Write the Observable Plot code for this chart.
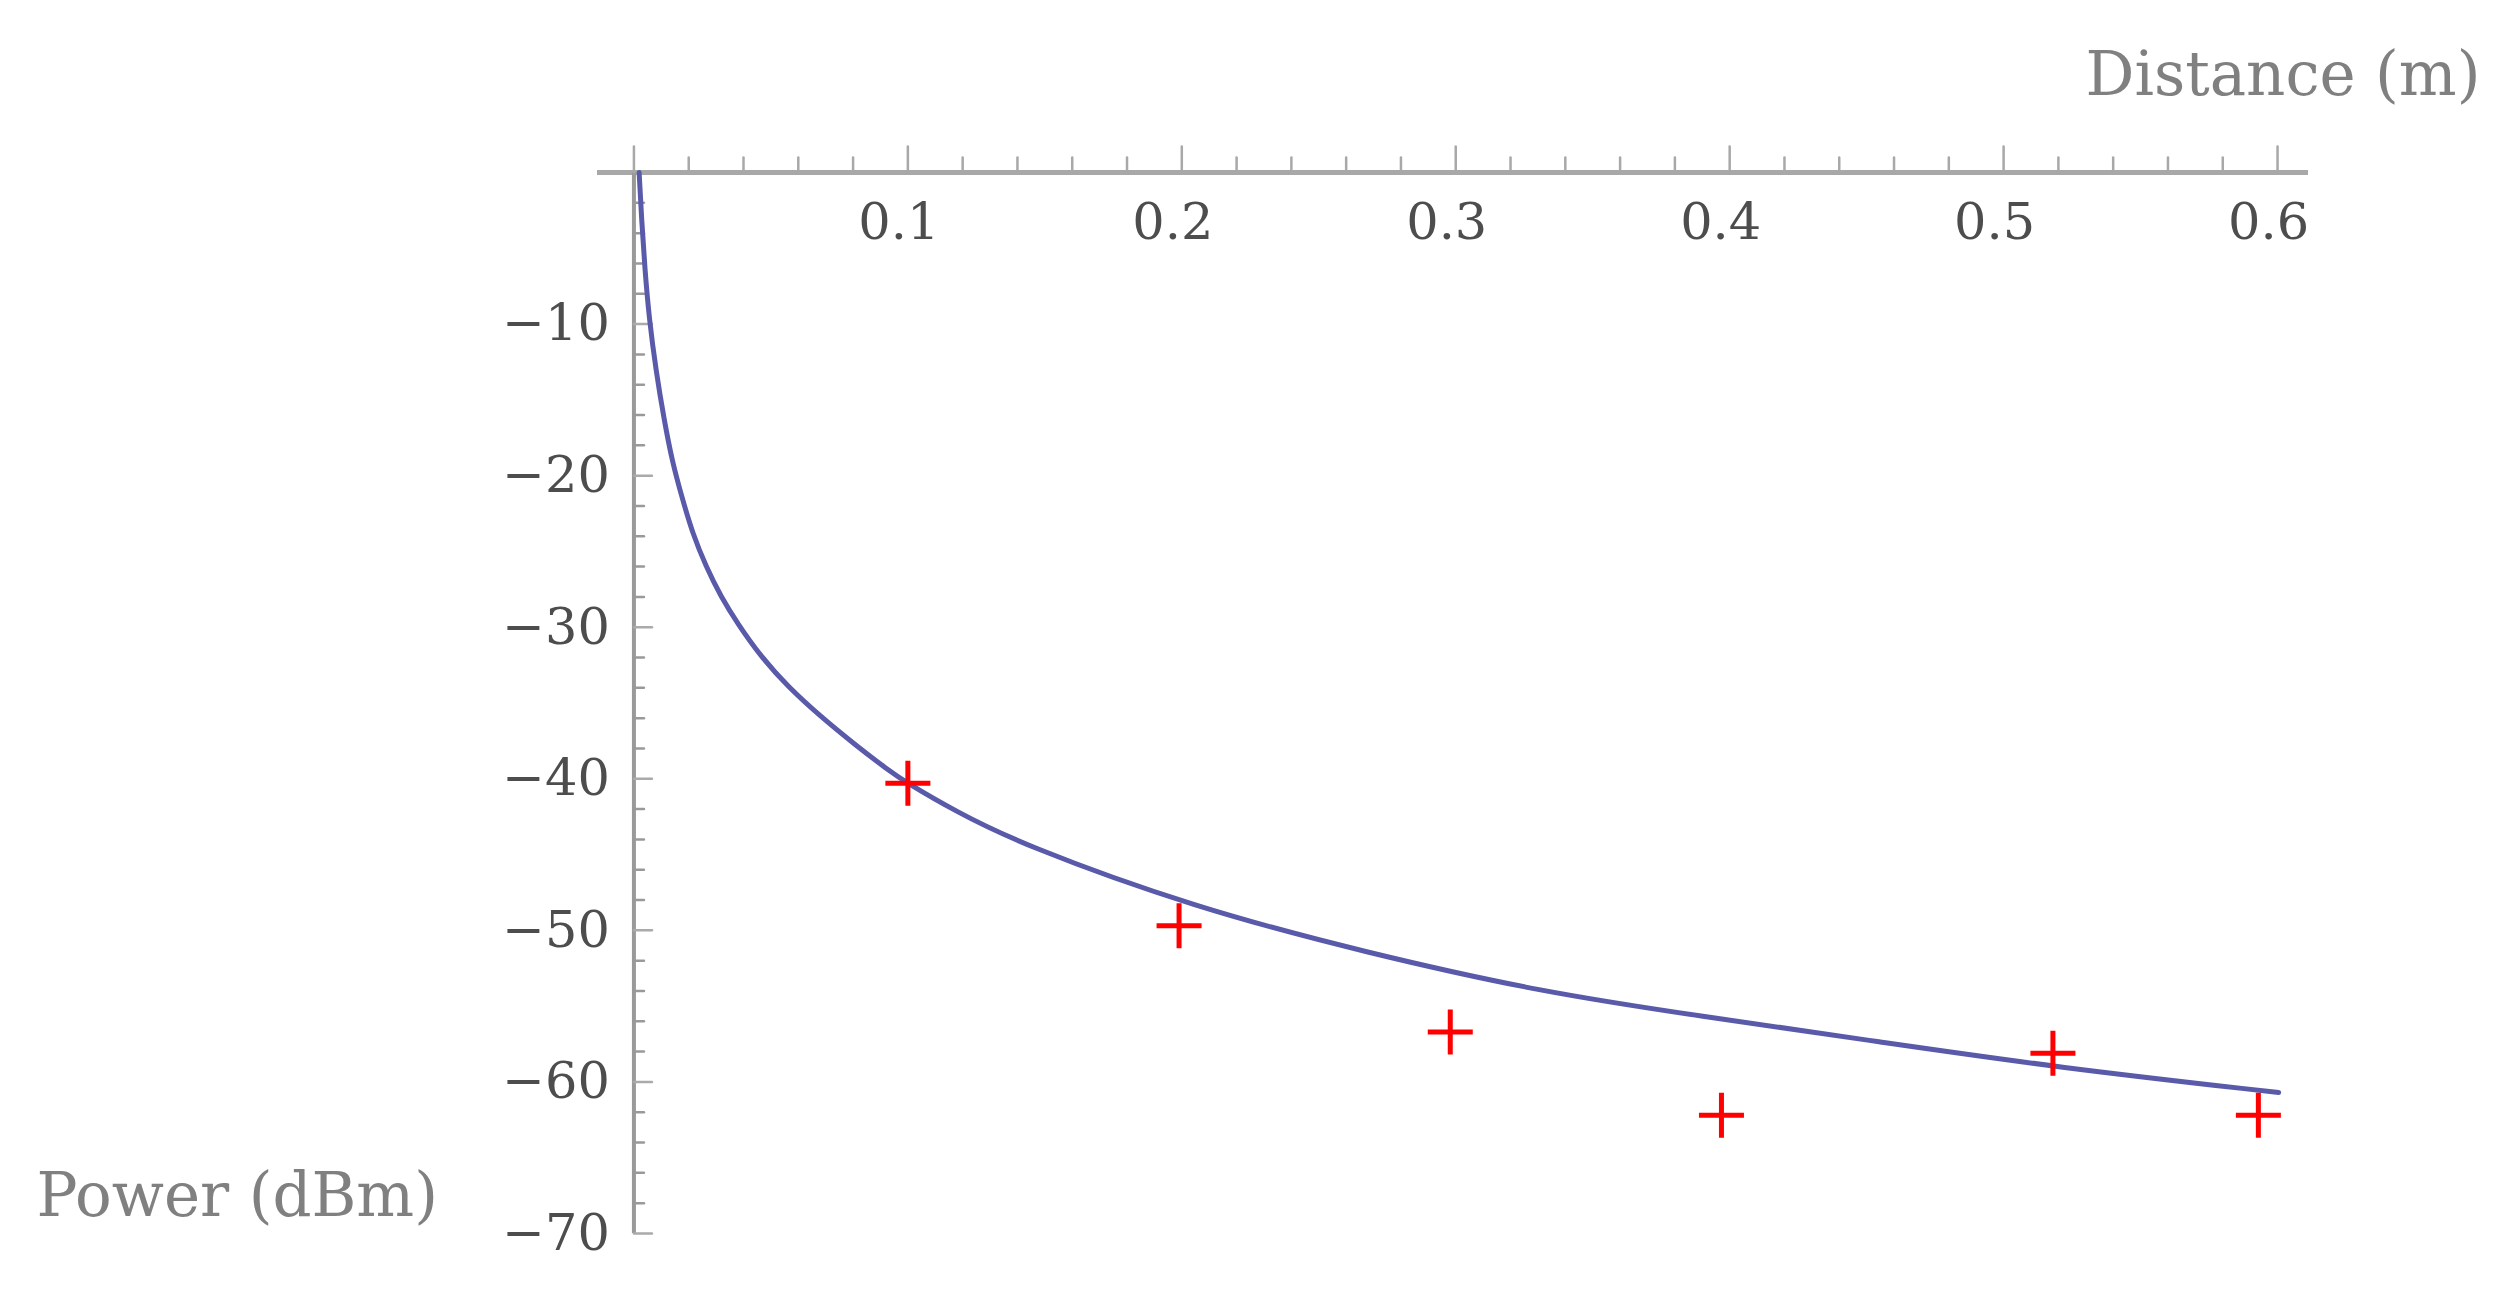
<!DOCTYPE html>
<html>
<head>
<meta charset="utf-8">
<script src="https://cdn.jsdelivr.net/npm/d3@7"></script>
<script src="https://cdn.jsdelivr.net/npm/@observablehq/plot@0.6"></script>
<style>
  html, body { margin: 0; padding: 0; background: #fff; }
  #chart svg { display: block; }
</style>
</head>
<body>
<div id="chart"></div>
<script>
// Fitted model curve
const curveDistance = [0.0019, 0.0028, 0.0040, 0.0056, 0.0080, 0.0110, 0.0140, 0.0178, 0.0214, 0.0263, 0.0318, 0.0378, 0.0464, 0.0561, 0.0682, 0.0804, 0.0926, 0.0999, 0.117, 0.141, 0.2047, 0.268, 0.3307, 0.389, 0.4546, 0.5197, 0.6004];
const curvePower    = [0, -3.1, -6.4, -9.7, -13.0, -16.3, -19.1, -21.6, -23.8, -26.0, -28.0, -29.75, -31.95, -33.9, -35.9, -37.7, -39.4, -40.3, -42.1, -44.3, -48.5, -51.5, -54.05, -55.65, -57.35, -59.05, -60.7];

// Measured points (red crosses)
const measuredDistance = [0.1, 0.199, 0.298, 0.397, 0.518, 0.593];
const measuredPower    = [-40.3, -49.7, -56.7, -62.2, -58.1, -62.2];

// Axis ticks
const xMajorTicks = [0, 0.1, 0.2, 0.3, 0.4, 0.5, 0.6];
const xTickLabels = [0.1, 0.2, 0.3, 0.4, 0.5, 0.6];
const xMinorTicks = [0.02, 0.04, 0.06, 0.08, 0.12, 0.14, 0.16, 0.18, 0.22, 0.24, 0.26, 0.28, 0.32, 0.34, 0.36, 0.38, 0.42, 0.44, 0.46, 0.48, 0.52, 0.54, 0.56, 0.58];
const yMajorTicks = [-10, -20, -30, -40, -50, -60, -70];
const yMinorTicks = [-2, -4, -6, -8, -12, -14, -16, -18, -22, -24, -26, -28, -32, -34, -36, -38, -42, -44, -46, -48, -52, -54, -56, -58, -62, -64, -66, -68];

const xLabel = "Distance (m)";
const yLabel = "Power (dBm)";

const curve = curveDistance.map((d, i) => ({distance: d, power: curvePower[i]}));
const measured = measuredDistance.map((d, i) => ({distance: d, power: measuredPower[i]}));

const tickShape = {
  draw(context, l) {
    context.moveTo(0, 0);
    context.lineTo(0, -l);
  }
};
const plusSymbol = {
  draw(context, size) {
    const r = Math.sqrt(size / Math.PI);
    context.moveTo(-r, 0);
    context.lineTo(r, 0);
    context.moveTo(0, -r);
    context.lineTo(0, r);
  }
};

const axisColor = "#a8a8a8";
const tickTextColor = "#4d4d4d";
const labelColor = "#808080";

const chart = Plot.plot({
  width: 2515,
  height: 1289,
  marginLeft: 597,
  marginRight: 207,
  marginTop: 172,
  marginBottom: 56,
  style: {background: "#fff", fontFamily: "'DejaVu Serif', serif"},
  x: {domain: [-0.0133, 0.6113], axis: null},
  y: {domain: [-70, 0], axis: null},
  marks: [
    // axis lines
    Plot.ruleY([0], {stroke: axisColor, strokeWidth: 5}),
    Plot.ruleX([0], {stroke: "#999", strokeWidth: 4}),
    // x ticks (pointing up)
    Plot.vector(xMinorTicks, {x: d => d, y: 0, length: 15, anchor: "start", shape: tickShape, stroke: axisColor, strokeWidth: 2.5}),
    Plot.vector(xMajorTicks, {x: d => d, y: 0, length: 26, anchor: "start", shape: tickShape, stroke: axisColor, strokeWidth: 2.5}),
    // y ticks (pointing right)
    Plot.vector(yMinorTicks, {x: 0, y: d => d, length: 10, rotate: 90, anchor: "start", shape: tickShape, stroke: "#999", strokeWidth: 2.5}),
    Plot.vector(yMajorTicks, {x: 0, y: d => d, length: 18, rotate: 90, anchor: "start", shape: tickShape, stroke: "#aaa", strokeWidth: 2.5}),
    // tick labels
    Plot.text(xTickLabels, {x: d => d, y: 0, text: d => d.toFixed(1), dy: 50, dx: -9, fontSize: 51, fill: tickTextColor}),
    Plot.text(yMajorTicks, {x: 0, y: d => d, text: d => "\u2212" + Math.abs(d), textAnchor: "end", dx: -24, fontSize: 51, fill: tickTextColor}),
    // axis labels
    Plot.text([xLabel], {frameAnchor: "top-right", textAnchor: "end", lineAnchor: "bottom", dx: 172, dy: -78, fontSize: 61, fill: labelColor}),
    Plot.text([yLabel], {frameAnchor: "bottom-left", textAnchor: "start", lineAnchor: "bottom", dx: -561, dy: -18, fontSize: 61, fill: labelColor}),
    // fitted curve
    Plot.line(curve, {x: "distance", y: "power", stroke: "#5a5aaa", strokeWidth: 5, curve: "basis"}),
    // measurements
    Plot.dot(measured, {x: "distance", y: "power", symbol: plusSymbol, r: 22.5, stroke: "#ff0000", strokeWidth: 5, fill: "none"})
  ]
});
document.getElementById("chart").appendChild(chart);
</script>
</body>
</html>
